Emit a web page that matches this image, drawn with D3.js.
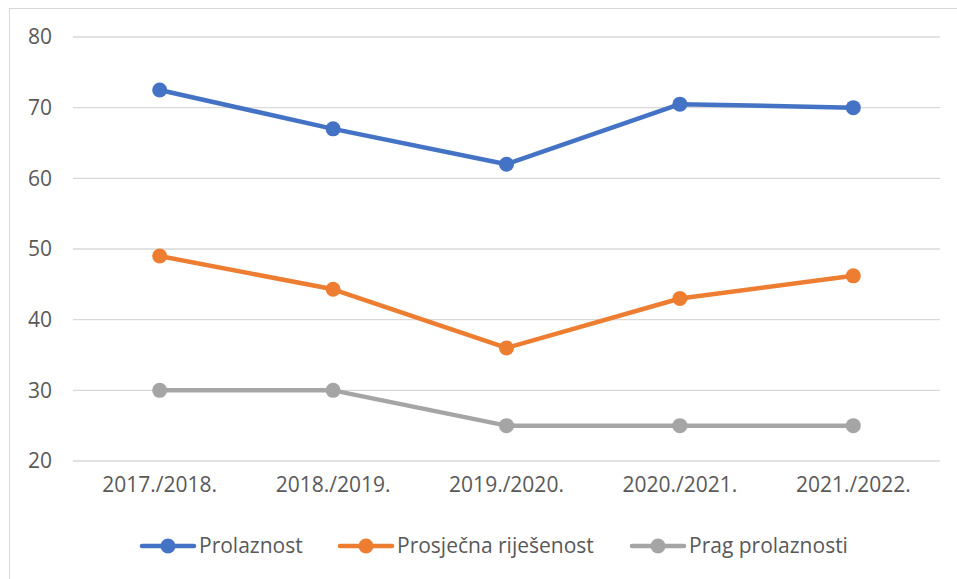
<!doctype html>
<html lang="hr">
<head>
  <meta charset="utf-8">
  <title>Prolaznost</title>
  <script src="https://d3js.org/d3.v7.min.js"></script>
  <style>
    body { margin: 0; background: #fff; }
    text { font-family: "Open Sans", sans-serif; fill: #595959; }
  </style>
</head>
<body>
<svg id="chart" width="957" height="579"></svg>
<script>
// data
var years = ["2017./2018.", "2018./2019.", "2019./2020.", "2020./2021.", "2021./2022."];
var prolaznost = [72.5, 67, 62, 70.5, 70];
var rijesenost = [49, 44.3, 36, 43, 46.2];
var prag = [30, 30, 25, 25, 25];
var yTicks = [20, 30, 40, 50, 60, 70, 80];

var series = [
  {name: "Prolaznost", values: prolaznost, color: "#4472C4"},
  {name: "Prosječna riješenost", values: rijesenost, color: "#ED7D31"},
  {name: "Prag prolaznosti", values: prag, color: "#A5A5A5"}
];

var svg = d3.select("#chart");

// outer chart border
svg.append("rect")
  .attr("x", 9.5).attr("y", 8.5)
  .attr("width", 960).attr("height", 580)
  .attr("fill", "none").attr("stroke", "#d9d9d9");

var x = d3.scaleBand().domain(years).range([73, 940]);
var y = d3.scaleLinear().domain([20, 80]).range([461, 37]);

// gridlines
svg.append("g").selectAll("line")
  .data(yTicks).enter().append("line")
  .attr("x1", 73).attr("x2", 940)
  .attr("y1", function(d) { return y(d); })
  .attr("y2", function(d) { return y(d); })
  .attr("stroke", "#d9d9d9").attr("stroke-width", 1.3);

// y labels
var yAxis = svg.append("g")
  .attr("transform", "translate(52,0)")
  .call(d3.axisLeft(y).tickValues(yTicks).tickSize(0).tickPadding(0));
yAxis.select(".domain").remove();
yAxis.selectAll("text").attr("font-size", 21).attr("font-family", "Open Sans").attr("fill", "#595959");

// x labels
var xAxis = svg.append("g")
  .attr("transform", "translate(0,477)")
  .call(d3.axisBottom(x).tickSize(0).tickPadding(0));
xAxis.select(".domain").remove();
xAxis.selectAll("text").attr("font-size", 21).attr("font-family", "Open Sans").attr("fill", "#595959");

var line = d3.line()
  .x(function(d, i) { return x(years[i]) + x.bandwidth() / 2; })
  .y(function(d) { return y(d); });

series.forEach(function(s) {
  var g = svg.append("g");
  g.append("path")
    .attr("d", line(s.values))
    .attr("fill", "none")
    .attr("stroke", s.color)
    .attr("stroke-width", 4.5)
    .attr("stroke-linejoin", "round")
    .attr("stroke-linecap", "round");
  g.selectAll("circle")
    .data(s.values).enter().append("circle")
    .attr("cx", function(d, i) { return x(years[i]) + x.bandwidth() / 2; })
    .attr("cy", function(d) { return y(d); })
    .attr("r", 7.5)
    .attr("fill", s.color);
});

// legend
var legendX = [140, 338, 630];
var legend = svg.append("g").attr("transform", "translate(0,546)");
series.forEach(function(s, i) {
  var lg = legend.append("g").attr("transform", "translate(" + legendX[i] + ",0)");
  lg.append("line")
    .attr("x1", 2).attr("x2", 54)
    .attr("stroke", s.color).attr("stroke-width", 4.5)
    .attr("stroke-linecap", "round");
  lg.append("circle").attr("cx", 28).attr("r", 7.5).attr("fill", s.color);
  lg.append("text")
    .attr("x", 59).attr("dy", "0.35em")
    .attr("font-size", 21)
    .text(s.name);
});
</script>
</body>
</html>
